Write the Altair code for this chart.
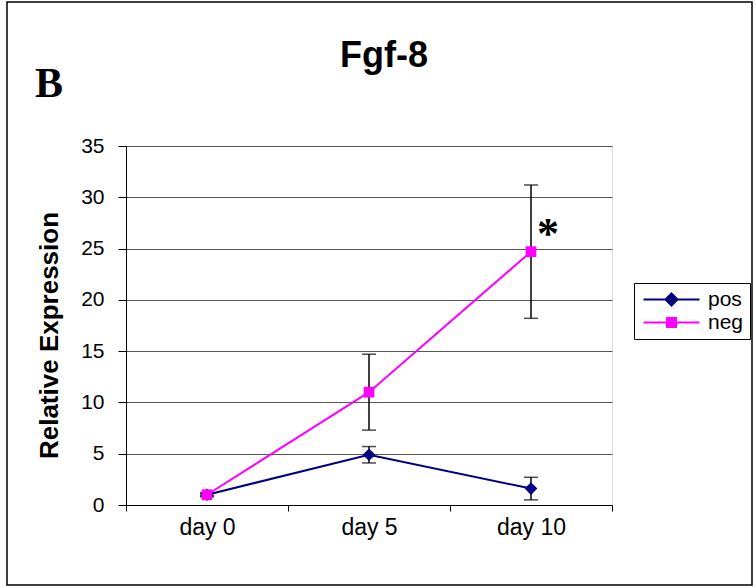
import altair as alt
import pandas as pd

# Relative expression of Fgf-8 (mean and error) per time point
days = ["day 0", "day 5", "day 10"]
series = ["pos", "neg"]
pos_mean = [1.0, 4.9, 1.6]
pos_err = [0.2, 0.8, 1.1]
neg_mean = [1.0, 11.0, 24.7]
neg_err = [0.1, 3.7, 6.5]
series_colors = ["#000080", "#FF00FF"]
y_ticks = [0, 5, 10, 15, 20, 25, 30, 35]

# significance marker
star_day = ["day 10"]
star_value = [27.0]

rows = []
for name, means, errs in (("pos", pos_mean, pos_err), ("neg", neg_mean, neg_err)):
    for d, m, e in zip(days, means, errs):
        rows.append({"day": d, "series": name, "value": m, "lo": m - e, "hi": m + e})
df = pd.DataFrame(rows)
star_df = pd.DataFrame({"day": star_day, "value": star_value})

W, H = 486, 359
FONT = "Liberation Sans"

xscale = alt.Scale(domain=days, paddingInner=0, paddingOuter=0)
xaxis = alt.Axis(
    title=None, grid=False, tickBand="extent", domainColor="black", domainWidth=1,
    tickColor="black", tickSize=6, labelFont=FONT, labelFontSize=23, labelColor="black",
    labelPadding=5, labelAngle=0,
)
yscale = alt.Scale(domain=[0, 35], nice=False, zero=True)
yaxis = alt.Axis(
    title="Relative Expression", values=y_ticks, grid=True, gridColor="#555555", gridWidth=1,
    domainColor="black", domainWidth=1, tickColor="black", tickSize=8,
    labelFont=FONT, labelFontSize=21, labelColor="black", labelPadding=14,
    titleFont=FONT, titleFontSize=26, titleFontWeight="bold", titleColor="black",
    titleX=-77, titleY=189, titleAngle=270, titleBaseline="middle", titleAlign="center",
)

X = alt.X("day:N", sort=days, scale=xscale, axis=xaxis)


def Y(field):
    return alt.Y(field, type="quantitative", scale=yscale, axis=yaxis)


base = alt.Chart(df)

# error bars: stems and caps
stems = base.mark_rule(color="black", strokeWidth=1.5).encode(x=X, y=Y("lo"), y2="hi:Q")
caps_lo = base.mark_tick(color="black", thickness=1.5, size=14).encode(x=X, y=Y("lo"))
caps_hi = base.mark_tick(color="black", thickness=1.5, size=14).encode(x=X, y=Y("hi"))

pos_line = base.transform_filter(alt.datum.series == "pos").mark_line(
    color=series_colors[0], strokeWidth=2).encode(x=X, y=Y("value"))
pos_pts = base.transform_filter(alt.datum.series == "pos").mark_point(
    filled=True, shape="diamond", size=160, color=series_colors[0], opacity=1).encode(x=X, y=Y("value"))
neg_line = base.transform_filter(alt.datum.series == "neg").mark_line(
    color=series_colors[1], strokeWidth=2).encode(x=X, y=Y("value"))
neg_pts = base.transform_filter(alt.datum.series == "neg").mark_point(
    filled=True, shape="square", size=115, color=series_colors[1], opacity=1).encode(x=X, y=Y("value"))

# legend symbols: a line segment with the series marker on it
diamond_path = "M-1,0H7M3,-0.857L3.857,0L3,0.857L2.143,0Z"
square_path = "M-1,0H7M2.357,-0.643H3.643V0.643H2.357Z"
legend = alt.Legend(
    title=None, orient="none", legendX=508, legendY=137, strokeColor="black", fillColor="white",
    padding=6, rowPadding=1, labelOffset=47, labelFont=FONT, labelFontSize=21, labelColor="black",
    symbolSize=196, symbolStrokeWidth=2, symbolOpacity=1,
)
legend_layer = base.mark_point(filled=True, opacity=0, size=196).encode(
    x=X, y=Y("value"),
    color=alt.Color("series:N", scale=alt.Scale(domain=series, range=series_colors), legend=legend),
    stroke=alt.Stroke("series:N", scale=alt.Scale(domain=series, range=series_colors), legend=legend),
    shape=alt.Shape("series:N", scale=alt.Scale(domain=series, range=[diamond_path, square_path]), legend=legend),
)

star = alt.Chart(star_df).mark_text(
    text="*", font="Liberation Serif", fontWeight="bold", fontSize=44, align="center",
    baseline="middle", dx=17, dy=7, color="black",
).encode(x=X, y=Y("value"))

one = alt.Data(values=[{"k": 1}])
title = alt.Chart(one).mark_text(
    text="Fgf-8", font=FONT, fontSize=36, fontWeight="bold", align="center",
    baseline="alphabetic", color="black",
).encode(x=alt.value(258), y=alt.value(-79))
panel = alt.Chart(one).mark_text(
    text="B", font="Liberation Serif", fontSize=42, fontWeight="bold", align="left",
    baseline="alphabetic", color="black",
).encode(x=alt.value(-91), y=alt.value(-49))
frame = alt.Chart(one).mark_rect(fillOpacity=0, stroke="black", strokeWidth=1.5).encode(
    x=alt.value(-119), x2=alt.value(626), y=alt.value(-144), y2=alt.value(439))

chart = alt.layer(
    frame, stems, caps_lo, caps_hi, legend_layer, pos_line, pos_pts, neg_line, neg_pts, star, title, panel
).properties(
    width=W, height=H,
    autosize=alt.AutoSizeParams(type="none"),
    padding={"left": 126, "top": 146, "right": 143, "bottom": 82},
).configure_view(stroke="#808080", strokeWidth=1).configure(background="white")

chart.save("out.html", embed_options={"renderer": "svg", "actions": False})
